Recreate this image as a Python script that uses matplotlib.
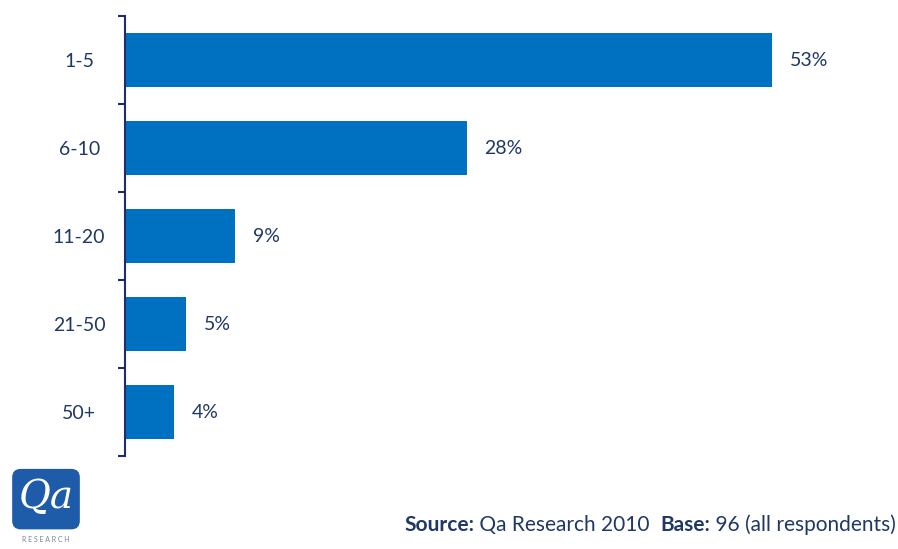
import matplotlib
matplotlib.use("Agg")
import matplotlib.pyplot as plt
from matplotlib.patches import FancyBboxPatch

BAR = "#0070c0"
NAVY = "#1f3864"
AXIS = "#1f2d6b"

plt.rcParams.update({
    "font.family": ["Lato", "DejaVu Sans"],
    "text.color": NAVY,
})

categories = ["1-5", "6-10", "11-20", "21-50", "50+"]
shares = [53, 28, 9, 5, 4]

fig = plt.figure(figsize=(8.98, 5.49), dpi=100, facecolor="white")
ax = fig.add_axes([125 / 898, 93 / 549, 735 / 898, 440 / 549])

ypos = list(range(len(categories)))
ax.barh(ypos, shares, height=0.62, color=BAR)
ax.set_ylim(len(categories) - 0.5, -0.5)
ax.set_xlim(0, 735 / 12.21)

for y, v in zip(ypos, shares):
    ax.text(v + 1.45, y, f"{v}%", va="center", ha="left", fontsize=14, color=NAVY)

# category labels centred, boundary ticks outward
ax.set_yticks(ypos)
ax.set_yticklabels(categories, fontsize=14, color=NAVY, ha="center")
ax.tick_params(axis="y", which="major", length=0, pad=33)
ax.set_yticks([i - 0.5 for i in range(len(categories) + 1)], minor=True)
ax.tick_params(axis="y", which="minor", length=5, width=1.5, color=AXIS, direction="out")

ax.set_xticks([])
for s in ["top", "right", "bottom"]:
    ax.spines[s].set_visible(False)
ax.spines["left"].set_color(AXIS)
ax.spines["left"].set_linewidth(1.5)

# footer, laid out right to left from the figure edge
renderer = fig.canvas.get_renderer()
parts = [("Source:", "bold"), (" Qa Research 2010  ", "normal"),
         ("Base:", "bold"), (" 96 (all respondents)", "normal")]
x = 896
for txt, weight in reversed(parts):
    t = fig.text(x / 898, 1 - 525 / 549, txt, ha="right", va="center",
                 fontsize=15, fontweight=weight, color=NAVY)
    x -= t.get_window_extent(renderer).width

# logo
logo = fig.add_axes([10 / 898, 1 - 538 / 549, 72 / 898, 72 / 549])
logo.set_xlim(0, 1)
logo.set_ylim(0, 1)
logo.axis("off")
logo.add_patch(FancyBboxPatch((0.03, 0.12), 0.94, 0.84, boxstyle="round,pad=0,rounding_size=0.12",
                              facecolor="#1e5ba8", edgecolor="none"))
logo.text(0.5, 0.56, "Qa", ha="center", va="center", fontsize=28, style="italic",
          family="DejaVu Serif", color="white")
logo.text(0.5, -0.02, "R E S E A R C H", ha="center", va="center", fontsize=5, color="#7a8599")

fig.savefig("out.png", dpi=100, facecolor="white")
